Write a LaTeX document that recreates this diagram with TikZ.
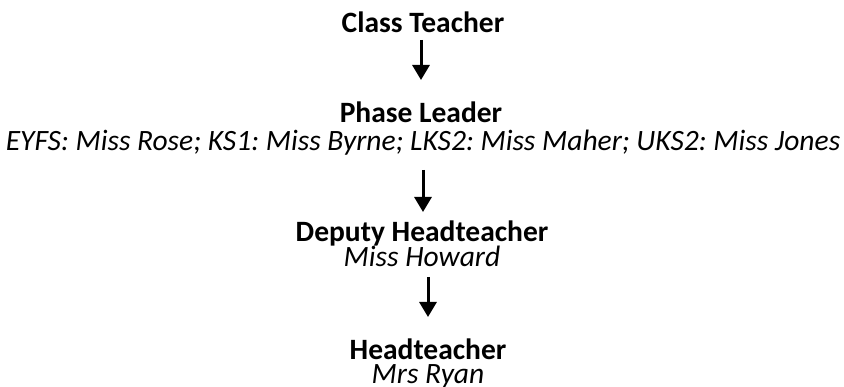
\documentclass[tikz,border=0pt]{standalone}
\usepackage{fontspec}
\setmainfont{Carlito}
\usetikzlibrary{arrows.meta}
\frenchspacing
\begin{document}
\begin{tikzpicture}[x=1pt,y=-1pt,
  txt/.style={anchor=base,inner sep=0pt,font=\fontsize{29.5}{34}\selectfont},
  ttl/.style={txt,font=\fontsize{29.5}{34}\selectfont\bfseries},
  sub/.style={txt,font=\fontsize{29.5}{34}\selectfont\itshape},
  arr/.style={line width=3pt,-{Triangle[width=17pt,length=15pt]}}]
\useasboundingbox (0,0) rectangle (844,387);
\node[ttl] (ct) at (423,33) {Class Teacher};
\node[ttl] (pl) at (421,123) {Phase Leader};
\node[sub] (eyfs) at (423,151) {EYFS: Miss Rose; KS1: Miss Byrne; LKS2: Miss Maher; UKS2: Miss Jones};
\node[ttl] (dh) at (422,242) {Deputy Headteacher};
\node[sub] (mh) at (422,267) {Miss Howard};
\node[ttl] (ht) at (428,360) {Headteacher};
\node[sub] (mr) at (428,384) {Mrs Ryan};
\draw[arr,shorten <=7pt,shorten >=43pt] ([xshift=-2pt]ct.base) -- (pl.base);
\draw[arr,shorten <=19pt,shorten >=30pt] (eyfs.base) -- ([xshift=1pt]dh.base);
\draw[arr,shorten <=10pt,shorten >=43pt] ([xshift=6pt]mh.base) -- (ht.base);
\end{tikzpicture}
\end{document}
